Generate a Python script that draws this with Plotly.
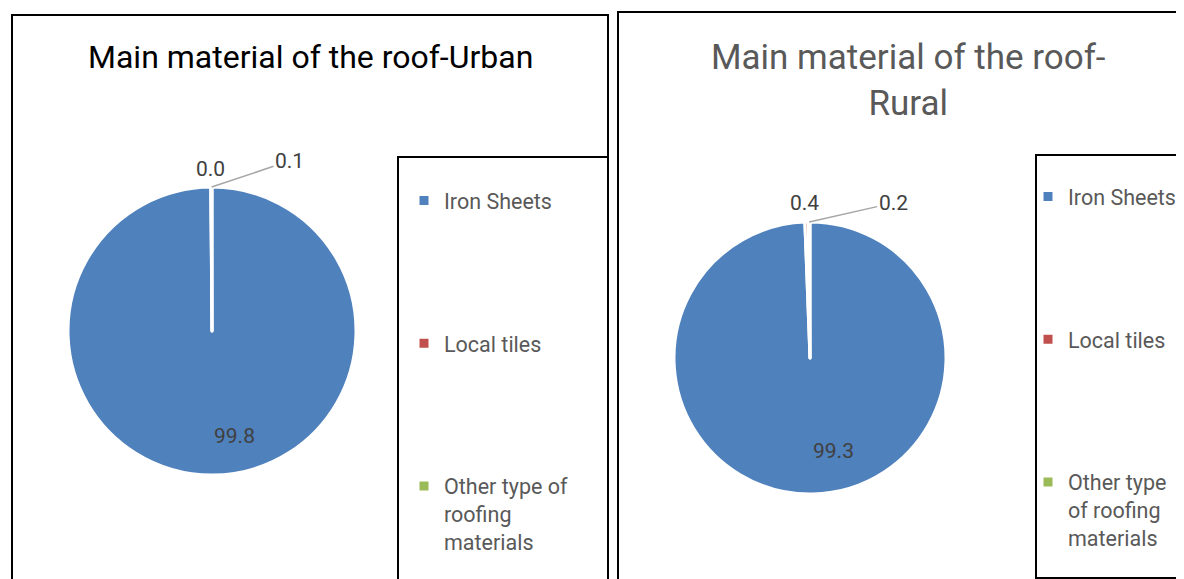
import math
import plotly.graph_objects as go

# data
urban_labels = ["Iron Sheets", "Local tiles", "Other type of<br>roofing<br>materials"]
rural_labels = ["Iron Sheets", "Local tiles", "Other type<br>of roofing<br>materials"]
urban_values = [99.8, 0.03, 0.1]
rural_values = [99.3, 0.4, 0.2]
slice_colors = ["#4F81BD", "#C0504D", "#9BBB59"]

# page has an 8px body margin, so figure is shifted; work in window pixels
W, H = 1176, 571
def px(x): return (x - 8) / W
def py(y): return 1 - (y - 8) / H

fig = go.Figure()
annotations = []

def pad(lbls, blank):
    # blank lines stretch the legend rows apart like the original
    return [l if "<br>" in l else l + ("<br>" + blank) * 4 for l in lbls]

def add_pie(labels, values, cx, cy, r, legend, big_off, small_off, arrow_off):
    fig.add_trace(go.Pie(
        labels=labels, values=values, sort=False, direction="clockwise",
        marker=dict(colors=slice_colors, line=dict(color="white", width=3)),
        textinfo="none",
        domain=dict(x=[px(cx - r), px(cx + r)], y=[py(cy + r), py(cy - r)]),
        legend=legend, hoverinfo="value",
    ))
    total = sum(values)
    start = 0
    font = dict(size=21, color="#404040", family="Roboto")
    for i, v in enumerate(values):
        mid = (start + v / 2) / total * 2 * math.pi
        start += v
        ex, ey = cx + r * math.sin(mid), cy - r * math.cos(mid)
        txt = f"{v:.1f}"
        common = dict(text=txt, xref="paper", yref="paper", xanchor="center", yanchor="middle", font=font)
        if i == 0:
            annotations.append(dict(common, x=px(cx + big_off[0]), y=py(cy + big_off[1]), showarrow=False))
        elif i == 1:
            annotations.append(dict(common, x=px(ex + small_off[0]), y=py(ey + small_off[1]), showarrow=False))
        else:
            annotations.append(dict(common, x=px(ex), y=py(ey), ax=arrow_off[0], ay=arrow_off[1],
                                    showarrow=True, arrowhead=0, arrowwidth=1.5,
                                    arrowcolor="#A6A6A6", standoff=0))

add_pie(pad(urban_labels, " "), urban_values, 212, 331, 144, "legend", (22, 105), (0, -18), (78, -26))
add_pie(pad(rural_labels, "&nbsp;"), rural_values, 810, 358, 136, "legend2", (23, 93), (-2, -19), (84, -19))

box = dict(type="rect", xref="paper", yref="paper", line=dict(color="black", width=2),
           fillcolor="rgba(0,0,0,0)", layer="below")

annotations += [
    dict(text="Main material of the roof-Urban", x=px(310), y=py(57), xref="paper", yref="paper",
         xanchor="center", yanchor="middle", showarrow=False,
         font=dict(size=32, color="black", family="Roboto")),
    dict(text="Main material of the roof-<br>Rural", x=px(908), y=py(80), xref="paper", yref="paper",
         xanchor="center", yanchor="middle", showarrow=False,
         font=dict(size=35, color="#595959", family="Roboto")),
]

fig.update_layout(
    width=W, height=H,
    margin=dict(l=0, r=0, t=0, b=0, autoexpand=False),
    paper_bgcolor="white", plot_bgcolor="white",
    font=dict(family="Roboto", color="#595959"),
    legend=dict(x=px(404), y=py(180), xanchor="left", yanchor="top",
                valign="top", font=dict(size=21.5, color="#595959"), bgcolor="rgba(0,0,0,0)"),
    legend2=dict(x=px(1028), y=py(176), xanchor="left", yanchor="top",
                 valign="top", font=dict(size=21.5, color="#595959"), bgcolor="rgba(0,0,0,0)"),
    shapes=[
        dict(box, x0=px(12), x1=px(608), y0=-0.1, y1=py(15)),
        dict(box, x0=px(618), x1=1.1, y0=-0.1, y1=py(12)),
        dict(box, x0=px(398), x1=px(608), y0=-0.1, y1=py(157)),
        dict(box, x0=px(1036), x1=1.1, y0=py(578), y1=py(155)),
    ],
    annotations=annotations,
)

fig.write_html("out.html")
